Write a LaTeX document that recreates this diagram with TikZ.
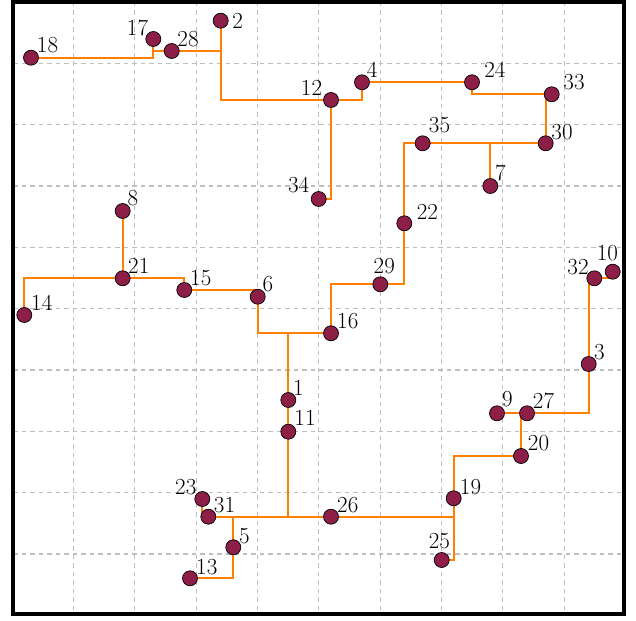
\documentclass[tikz,border=0pt]{standalone}
\usetikzlibrary{backgrounds}
\definecolor{dotred}{RGB}{140,30,72}
\definecolor{wireorange}{RGB}{255,128,0}
\definecolor{gridgray}{RGB}{190,190,190}
\begin{document}
\begin{tikzpicture}[x=1pt,y=-1pt,
  dot/.style={circle,draw=black,line width=0.7pt,fill=dotred,minimum size=15pt,inner sep=0pt},
  lbl/.style={inner sep=0pt,font=\fontsize{23}{27}\selectfont},
  wire/.style={draw=wireorange,line width=2.3pt},
  gridline/.style={draw=gridgray,line width=1.1pt,dash pattern=on 4.5pt off 4pt}]
\useasboundingbox (0,0) rectangle (636,620);
% nodes
\node[dot] (n1) at (288.3,400) {};
\node[dot] (n2) at (220.7,20.7) {};
\node[dot] (n3) at (588.7,364) {};
\node[dot] (n4) at (362,82.3) {};
\node[dot] (n5) at (233.3,547.3) {};
\node[dot] (n6) at (257.7,296.7) {};
\node[dot] (n7) at (490.3,186) {};
\node[dot] (n8) at (122.7,211) {};
\node[dot] (n9) at (497,413.3) {};
\node[dot] (n10) at (612.7,271.7) {};
\node[dot] (n11) at (288.3,431.7) {};
\node[dot] (n12) at (331,100) {};
\node[dot] (n13) at (190,578.3) {};
\node[dot] (n14) at (24.3,315) {};
\node[dot] (n15) at (184.3,290) {};
\node[dot] (n16) at (331,333.3) {};
\node[dot] (n17) at (153.3,39) {};
\node[dot] (n18) at (31,57.7) {};
\node[dot] (n19) at (453.7,498.3) {};
\node[dot] (n20) at (521,456) {};
\node[dot] (n21) at (122.7,278.3) {};
\node[dot] (n22) at (404.3,223.3) {};
\node[dot] (n23) at (202.3,499) {};
\node[dot] (n24) at (472,82.3) {};
\node[dot] (n25) at (441.7,560) {};
\node[dot] (n26) at (331,516.7) {};
\node[dot] (n27) at (527,413.3) {};
\node[dot] (n28) at (171.7,51) {};
\node[dot] (n29) at (380.3,284.3) {};
\node[dot] (n30) at (545.7,143.3) {};
\node[dot] (n31) at (208.3,516.7) {};
\node[dot] (n32) at (594.3,278.3) {};
\node[dot] (n33) at (551.7,94.3) {};
\node[dot] (n34) at (318.7,199) {};
\node[dot] (n35) at (422.7,143.3) {};
% labels
\node[lbl] (t1) at (298.3,388.3) {1};
\node[lbl] (t2) at (237.7,20.8) {2};
\node[lbl] (t3) at (599.3,352.5) {3};
\node[lbl] (t4) at (372.2,69.5) {4};
\node[lbl] (t5) at (244.3,535.8) {5};
\node[lbl] (t6) at (267.8,284.3) {6};
\node[lbl] (t7) at (500.5,173.3) {7};
\node[lbl] (t8) at (133,198.3) {8};
\node[lbl] (t9) at (507.3,399.5) {9};
\node[lbl] (t10) at (607.3,253.3) {10};
\node[lbl] (t11) at (305,418.3) {11};
\node[lbl] (t12) at (311.5,88) {12};
\node[lbl] (t13) at (206.8,566.7) {13};
\node[lbl] (t14) at (41.8,302.5) {14};
\node[lbl] (t15) at (200.8,278) {15};
\node[lbl] (t16) at (347.8,321.3) {16};
\node[lbl] (t17) at (137.5,27.5) {17};
\node[lbl] (t18) at (47.5,45) {18};
\node[lbl] (t19) at (470.5,486.7) {19};
\node[lbl] (t20) at (538.5,443.3) {20};
\node[lbl] (t21) at (138.8,266.2) {21};
\node[lbl] (t22) at (427.3,211.5) {22};
\node[lbl] (t23) at (185.8,486.7) {23};
\node[lbl] (t24) at (494.8,69.5) {24};
\node[lbl] (t25) at (439.3,541.2) {25};
\node[lbl] (t26) at (347.8,505.3) {26};
\node[lbl] (t27) at (543.5,400.5) {27};
\node[lbl] (t28) at (188,38.7) {28};
\node[lbl] (t29) at (384.3,265.7) {29};
\node[lbl] (t30) at (562,131.7) {30};
\node[lbl] (t31) at (224.5,505.3) {31};
\node[lbl] (t32) at (578,266.7) {32};
\node[lbl] (t33) at (574,82.3) {33};
\node[lbl] (t34) at (298.7,185) {34};
\node[lbl] (t35) at (439.5,125) {35};
\begin{pgfonlayer}{background}
  \foreach \i in {0,...,8} {
    \draw[gridline] ({73.3+61.375*\i},2) -- ({73.3+61.375*\i},614);
    \draw[gridline] (13,{63.3+61.34*\i}) -- (624,{63.3+61.34*\i});
  }
  \draw[wire] (n18.center) -| (n17.center);
  \draw[wire] (n28.center) -| (n17.center);
  \draw[wire] (n28.center) -| (n2.center);
  \draw[wire] (n2.center) |- (n12.center);
  \draw[wire] (n12.center) -| (n4.center);
  \draw[wire] (n4.center) -- (n24.center);
  \draw[wire] (n24.center) |- (n33.center);
  \draw[wire] (n33.center) -| (n30.center);
  \draw[wire] (n30.center) -- (n35.center);
  \draw[wire] (n22.center) |- (n35.center);
  \draw[wire] (n7.center) |- (n30.center);
  \draw[wire] (n12.center) |- (n34.center);
  \draw[wire] (n8.center) -- (n21.center);
  \draw[wire] (n21.center) -| (n14.center);
  \draw[wire] (n21.center) -| (n15.center);
  \draw[wire] (n15.center) -| (n6.center);
  \draw[wire] (n6.center) |- (n16.center);
  \draw[wire] (n1.center) |- (n16.center);
  \draw[wire] (n1.center) -- (n11.center);
  \draw[wire] (n11.center) |- (n26.center);
  \draw[wire] (n11.center) |- (n31.center);
  \draw[wire] (n22.center) |- (n29.center);
  \draw[wire] (n29.center) -| (n16.center);
  \draw[wire] (n32.center) -| (n10.center);
  \draw[wire] (n3.center) |- (n32.center);
  \draw[wire] (n3.center) |- (n27.center);
  \draw[wire] (n9.center) -- (n27.center);
  \draw[wire] (n20.center) |- (n27.center);
  \draw[wire] (n19.center) |- (n20.center);
  \draw[wire] (n26.center) -| (n19.center);
  \draw[wire] (n19.center) |- (n25.center);
  \draw[wire] (n23.center) |- (n31.center);
  \draw[wire] (n31.center) -| (n5.center);
  \draw[wire] (n5.center) |- (n13.center);
\end{pgfonlayer}
\draw[line width=4.3pt] (13,2) rectangle (624.3,613.9);
\end{tikzpicture}
\end{document}
